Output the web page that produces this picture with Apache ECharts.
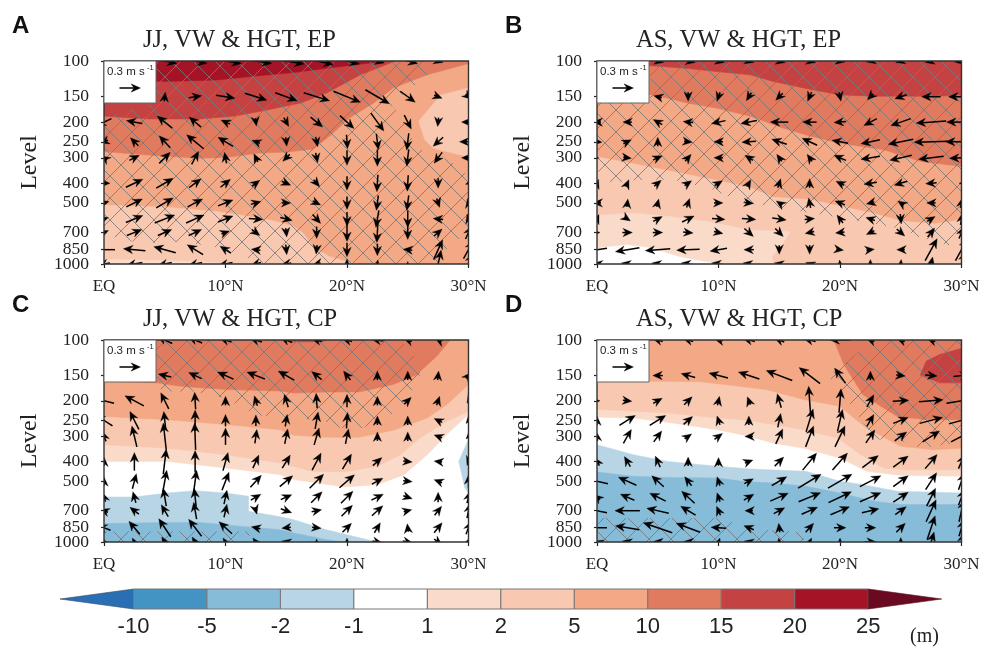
<!DOCTYPE html>
<html><head><meta charset="utf-8">
<style>html,body{margin:0;padding:0;background:#fff}#c{width:983px;height:648px}</style>
<script src="https://cdn.jsdelivr.net/npm/echarts@6/dist/echarts.min.js"></script>
</head><body><div id="c"></div>
<script>
// ---------- axes ----------
const levelTicks = [100,150,200,250,300,400,500,700,1000];
const crowdedLevelTicks = [850];
const lonTicks = ['EQ','10°N','20°N','30°N'];
const windLevels = [100,150,200,250,300,400,500,600,700,850,1000];
const windLons = [0,2.5,5,7.5,10,12.5,15,17.5,20,22.5,25,27.5,30];
const barLabels = ['-10','-5','-2','-1','1','2','5','10','15','20','25'];
const barColors = ['#2a6fb3','#4393c3','#87bcd9','#b8d5e5','#ffffff','#fadbca','#f8c8b0','#f3a985','#e07b5f','#c44242','#a51426','#6a0a20'];
const titles = ['JJ, VW & HGT, EP','AS, VW & HGT, EP','JJ, VW & HGT, CP','AS, VW & HGT, CP'];
const letters = ['A','B','C','D'];

// ---------- contour fields: [band label, vertices as [lat, level]] painted in order ----------
const fieldA = [
 ['5',[[0,100],[30,100],[30,1000],[0,1000]]],
 ['2',[[0,512],[5.2,525],[9.3,552],[12.9,595],[14.2,618],[15.6,654],[16.4,706],[17.3,837],[18.6,920],[20,973],[20.8,1000],[0,1000]]],
 ['1',[[0,948],[5.2,963],[7.9,973],[10.7,1000],[0,1000]]],
 ['2',[[30,136],[27.7,147],[25.9,198],[26.4,244],[27.1,269],[29.6,293],[30,298]]],
 ['10',[[0,279],[2.4,287],[5.2,295],[7.9,301],[10,299],[12.8,284],[15,281],[17.2,272],[18.7,231],[20.2,191],[22.2,161],[23.8,136],[26.6,117],[30,103],[30,100],[0,100]]],
 ['15',[[0,187],[3.8,193],[7.9,193],[10.7,187],[12.9,177],[16.2,161],[18.3,144],[21.1,117],[23.8,101],[24,100],[0,100]]],
 ['20',[[0,124],[5.2,126],[9.3,124],[12.9,118],[15.6,114],[19.7,106],[23.3,100],[0,100]]]
];
const fieldB = [
 ['2',[[0,100],[30,100],[30,1000],[0,1000]]],
 ['1',[[0,575],[3,562],[5.8,582],[9,618],[12.6,680],[15.9,693],[15.3,791],[14.4,920],[14.5,1000],[0,1000]]],
 ['-1',[[0,837],[2.5,807],[4.5,837],[6.7,920],[8.7,973],[10.1,1000],[0,1000]]],
 ['5',[[0,295],[3,319],[5.8,344],[8.5,371],[12.5,415],[14.5,466],[17.5,478],[22.9,562],[25,610],[27.8,630],[29.4,610],[30,590],[30,100],[0,100]]],
 ['10',[[0,135],[4.7,147],[7.4,161],[9.9,171],[12.6,187],[15.3,214],[17.5,234],[20,254],[23.6,274],[26.6,312],[30,331],[30,100],[0,100]]],
 ['15',[[0,103],[4.9,106],[7.5,109],[10,113],[12.6,117],[14.5,126],[17.3,137],[20,147],[22.7,149],[28,149],[30,147],[30,100],[0,100]]]
];
const fieldC = [
 ['-1',[[0,100],[30,100],[30,1000],[0,1000]]],
 ['1',[[0,399],[5.2,399],[10,430],[14.5,464],[15.6,491],[19.8,534],[22.5,520],[24.7,464],[26.6,370],[28.2,294],[30,234],[30,100],[0,100]]],
 ['2',[[0,330],[5.2,343],[10,370],[14.5,406],[17.1,447],[19.8,450],[22.5,422],[24.4,370],[26,306],[28.2,253],[30,225],[30,100],[0,100]]],
 ['5',[[0,239],[5.2,248],[10,262],[14.5,278],[15.6,296],[18.3,303],[21,303],[23.8,280],[26.6,243],[28.2,209],[30,166],[30,100],[0,100]]],
 ['10',[[0,160],[4.3,163],[6.5,170],[10.1,176],[14.5,179],[15.6,183],[18.3,181],[21,181],[23.8,166],[25.7,149],[27.4,120],[28.5,100],[0,100]]],
 ['15',[[15.3,100],[18.3,100],[18,102],[15.6,102]]],
 ['-2',[[0,599],[2.5,599],[5.2,572],[7.5,557],[10,572],[11.9,594],[11.9,705],[14.5,750],[15.6,775],[18.3,869],[22.2,992],[22.5,1000],[0,1000]]],
 ['-5',[[0,811],[5.2,800],[7.9,800],[11.2,836],[14.5,869],[15.6,902],[18.3,973],[19.7,1000],[0,1000]]],
 ['-2',[[30,311],[29.2,398],[29.7,540],[30,572]]]
];
const fieldD = [
 ['-1',[[0,100],[30,100],[30,1000],[0,1000]]],
 ['1',[[0,241],[3,243],[6.3,258],[9.9,278],[12.6,300],[14.5,324],[17,343],[20,384],[22.2,447],[25,468],[30,473],[30,100],[0,100]]],
 ['2',[[0,220],[3,225],[5.8,230],[9.9,243],[11.9,248],[14.5,262],[17,278],[19.8,306],[21.7,370],[23.6,430],[25.5,439],[30,439],[30,100],[0,100]]],
 ['5',[[0,161],[4.4,160],[8.5,161],[11.9,170],[13.9,176],[17,197],[20,213],[21.4,250],[22.2,273],[25,336],[27.7,349],[30,343],[30,100],[0,100]]],
 ['10',[[19.5,100],[20.3,132],[21.9,187],[24.7,239],[27.1,248],[30,248],[30,100]]],
 ['15',[[30,110],[28.2,118],[27.1,127],[26.6,149],[28.2,163],[30,163]]],
 ['-2',[[0,330],[3,370],[5.8,399],[8.5,414],[12.6,435],[17.2,447],[20,501],[21.9,520],[24.7,561],[30,572],[30,1000],[0,1000]]],
 ['-5',[[0,450],[3,473],[5.8,479],[9.9,482],[12,501],[14.5,511],[17.2,530],[20,572],[22.8,629],[25,653],[30,653],[30,1000],[0,1000]]]
];

// ---------- significance hatching ----------
const hatchA = [[[4.3,100],[27.8,100],[26.8,115],[24.4,149],[23.7,167],[24.4,185],[25.8,270],[28.5,310],[30,370],[30,700],[28.5,800],[27.5,1000],[13.4,1000],[12.3,955],[10.7,885],[9,820],[6.3,776],[3,791],[0,719],[0,190],[4.3,160]]];
const hatchB = [[[0,345],[1.2,400],[3.3,385],[6.3,385],[9.6,431],[12,502],[13.4,510],[15.9,540],[20.8,600],[25.5,680],[26.3,730],[28.9,810],[29.9,730],[30,730],[30,100],[4.4,100],[4.4,160],[0,160]]];
const hatchC = [[[4.3,100],[24.4,100],[26,130],[26,150],[25.2,186],[24.4,221],[23.3,240],[21.3,273],[19.7,273],[19,270],[18.3,255],[16,243],[14.5,243],[12.5,235],[10,195],[7.5,180],[5,180],[4.3,170]],
 [[0,885],[12,885],[12,1000],[0,1000]]];
const hatchD = [[[23.3,100],[21.9,110],[20.3,132],[19,150],[20,173],[21.5,240],[23,311],[24.7,311],[26.7,343],[30,320],[30,100]],
 [[0,760],[10,760],[13.4,870],[15.6,880],[17,900],[17,1000],[0,1000]]];

// ---------- wind vectors per level, per latitude: [eastward, upward], 21 units = 0.3 m/s ----------
const windA = [
 [null,null,[24,-5],[24,-5],[32,-5],[32,-5],[36,-6],[33,-7],[25,-6],[14,-4],[20,-5],[10,-3],null],
 [null,null,[1,9],[13,2],[19,-3],[22,-7],[22,-8],[26,-8],[27,-11],[24,-14],[15,-11],[8,-3],[6,-5]],
 [[-15,-7],[-16,3],[-15,12],[-12,10],[-9,4],[1,-8],[5,-9],[12,-10],[14,-13],[13,-18],[7,-14],[-1,-9],[-14,0]],
 [[-8,-3],[-8,8],[-11,12],[-17,14],[-15,9],[-8,3],[1,-9],[2,-10],[1,-14],[2,-16],[-2,-17],[-10,-9],[-18,0]],
 [[-6,4],[10,5],[11,11],[7,13],[-2,11],[-4,8],[-7,-7],[2,-10],[0,-15],[0,-17],[-2,-17],[-8,-11],[-14,0]],
 [[12,0],[17,8],[17,10],[12,9],[10,8],[8,6],[9,-4],[6,-7],[0,-14],[-1,-17],[-1,-16],[0,-10],[-6,-2]],
 [[10,3],[16,8],[17,10],[15,8],[15,6],[10,3],[9,0],[8,-4],[0,-13],[-2,-15],[-2,-15],[3,-9],[-2,9]],
 [[9,3],[17,7],[20,8],[18,8],[15,6],[14,-1],[12,-3],[8,-9],[0,-14],[-3,-17],[0,-17],[-10,1],[-3,10]],
 [[9,4],[15,6],[14,6],[13,6],[8,3],[8,-6],[1,-9],[0,-12],[0,-18],[-1,-20],[0,-14],[8,7],[6,13]],
 [[-22,0],[-22,2],[-22,6],[-16,10],[-11,7],[-9,1],[1,-10],[-1,-9],[0,-14],[0,-12],[-9,1],[9,20],[10,18]],
 [[-12,-2],[-16,-3],[-14,-3],[-14,-3],[-14,-3],[-10,-3],[-10,-2],[-8,-2],[0,10],[1,8],[0,5],[6,28],[8,22]]
];
const windB = [
 [null,null,[12,-3],[14,-3],[12,-3],[10,-3],[12,-3],[12,-3],[10,-2],[-8,-2],[-10,-3],[-12,-3],[-14,-2]],
 [null,null,[-8,2],[0,-9],[-3,-9],[-5,-8],[-7,-7],[-4,-9],[2,-9],[-6,-6],[-12,-4],[-19,0],[-26,0]],
 [[-8,0],[-9,0],[-9,5],[-10,1],[-14,-3],[-16,-3],[-18,0],[-14,0],[-12,-1],[-13,-7],[-20,-7],[-30,-2],[-30,0]],
 [[10,-1],[8,4],[0,9],[8,-1],[-9,0],[-14,-1],[-15,5],[-15,7],[-16,3],[-19,-4],[-25,-5],[-34,-1],[-32,0]],
 [[4,0],[8,-1],[9,4],[6,7],[-9,0],[-8,5],[-5,7],[-5,7],[-12,5],[-19,-3],[-22,-5],[-25,-3],[-24,-1]],
 [[3,8],[3,7],[7,6],[7,5],[8,5],[4,7],[3,9],[0,9],[-8,4],[-13,-2],[-13,-4],[-11,-1],[-5,0]],
 [[-8,0],[1,8],[2,8],[3,9],[9,0],[9,-1],[-6,4],[-2,10],[-10,4],[-8,-2],[-6,4],[-9,0],[2,10]],
 [[4,9],[6,-4],[9,5],[12,6],[13,-1],[14,-1],[14,-2],[10,1],[-6,8],[-9,3],[1,-10],[8,5],[2,12]],
 [[6,0],[10,0],[10,0],[10,-1],[9,-2],[9,-8],[8,-8],[-9,-2],[-9,-1],[-8,-4],[8,-7],[7,9],[5,12]],
 [[-20,-3],[-24,-4],[-25,-2],[-23,-1],[-17,-3],[-10,0],[0,-9],[0,-9],[7,-1],[8,1],[-8,0],[12,22],[12,22]],
 [[-8,1],[-12,2],[-12,2],[-14,2],[-14,2],[-12,2],[-10,2],[-8,3],[-1,8],[0,9],[1,9],[3,14],[8,25]]
];
const windC = [
 [null,null,[-15,7],[-14,6],[-12,4],[-12,4],[-12,5],[-10,3],[-10,3],[-12,2],[-8,3],[-6,3],null],
 [null,null,[-13,3],[-13,6],[-16,7],[-18,7],[-16,9],[-10,8],[-7,9],[0,9],[0,9],[1,9],[5,6]],
 [[-20,5],[-19,10],[-8,16],[-1,17],[0,9],[-3,10],[-4,13],[-1,15],[0,13],[0,9],[7,7],[3,9],[-3,-5]],
 [[-17,11],[-9,18],[-2,18],[0,21],[0,12],[0,11],[2,12],[3,17],[1,16],[0,9],[0,9],[-8,4],[-5,-6]],
 [[-4,10],[-5,21],[-3,27],[-1,27],[0,17],[2,14],[3,15],[5,17],[3,15],[0,9],[0,9],[-8,3],[-5,-5]],
 [[0,9],[0,18],[3,25],[0,22],[5,18],[6,13],[8,13],[9,17],[9,15],[9,8],[9,-1],[-8,1],[-3,-8]],
 [[0,9],[4,15],[4,22],[3,22],[7,18],[11,12],[13,11],[14,14],[15,13],[11,6],[9,-1],[-8,3],[0,13]],
 [[-3,9],[-3,11],[-3,18],[-2,18],[3,14],[10,6],[11,5],[11,11],[12,12],[12,6],[9,-3],[0,10],[3,12]],
 [[-8,3],[-9,7],[-7,12],[-3,17],[3,13],[2,-7],[11,-4],[10,2],[11,11],[11,10],[8,2],[7,9],[3,15]],
 [[-13,5],[-11,13],[-12,18],[-13,17],[-13,12],[-9,2],[-9,-1],[9,-1],[9,9],[6,10],[-1,8],[8,10],[5,13]],
 [[-4,8],[-4,8],[-6,10],[-6,10],[-5,8],[-6,8],[-9,2],[0,6],[0,8],[10,-2],[10,-2],[8,-6],[4,10]]
];
const windD = [
 [null,null,[-10,3],[-10,3],[-8,2],[-12,3],[-10,4],[-12,3],[-20,0],[-8,3],[-8,3],[-8,3],[-4,2]],
 [null,null,[-10,0],[-14,4],[-19,5],[-21,7],[-26,10],[-21,16],[-11,15],[0,9],[9,-1],[12,-1],[16,2]],
 [[6,0],[9,-1],[9,5],[8,8],[2,9],[-3,8],[-4,14],[-2,29],[2,24],[7,12],[16,1],[24,2],[30,5]],
 [[0,9],[16,10],[16,10],[9,8],[-3,9],[0,9],[3,14],[7,23],[5,22],[7,12],[15,6],[23,6],[25,7]],
 [[-1,9],[8,14],[8,11],[7,5],[8,6],[-8,0],[7,15],[8,21],[10,21],[9,13],[12,9],[17,11],[21,11]],
 [[-5,8],[-6,10],[-5,11],[0,9],[0,8],[8,3],[9,9],[14,17],[15,17],[16,12],[15,11],[12,14],[6,14]],
 [[-22,5],[-18,8],[-12,11],[-7,9],[-3,9],[9,5],[15,9],[23,14],[24,14],[21,11],[15,11],[11,17],[6,17]],
 [[-6,5],[-14,6],[-16,8],[-13,12],[-3,9],[10,6],[18,8],[22,9],[23,11],[21,9],[15,10],[9,18],[6,16]],
 [[-20,4],[-25,0],[-22,5],[-15,9],[-4,9],[-8,0],[11,6],[16,7],[19,8],[17,4],[11,8],[10,22],[5,22]],
 [[-20,0],[-24,4],[-29,10],[-24,9],[-15,1],[-10,4],[-1,9],[8,9],[12,0],[11,0],[9,9],[8,24],[5,17]],
 [[-6,2],[-10,2],[-9,1],[-9,1],[3,8],[-9,2],[-1,8],[4,8],[0,8],[12,0],[0,9],[6,20],[5,18]]
];
const refVectorLength = 21;

// ---------- layout ----------
const panels = [
 {left:104,top:61,h:203,field:fieldA,hatch:hatchA,wind:windA},
 {left:597,top:61,h:203,field:fieldB,hatch:hatchB,wind:windB},
 {left:104,top:340,h:202,field:fieldC,hatch:hatchC,wind:windC},
 {left:597,top:340,h:202,field:fieldD,hatch:hatchD,wind:windD}
];
const plotW = 364.5;
const colorOf = {'-1':'#ffffff','1':'#fadbca','2':'#f8c8b0','5':'#f3a985','10':'#e07b5f','15':'#c44242','20':'#a51426','-2':'#b8d5e5','-5':'#87bcd9'};

const tile = document.createElement('canvas'); tile.width = 22; tile.height = 22;
(function(){const g=tile.getContext('2d');g.strokeStyle='rgba(120,120,120,0.85)';g.lineWidth=1;
 g.beginPath();g.moveTo(-2,-2);g.lineTo(24,24);g.moveTo(24,-2);g.lineTo(-2,24);g.stroke();})();

function arrow(cx,cy,dx,dy){
 const L=Math.hypot(dx,dy)||1, ux=dx/L, uy=-dy/L;
 const tx=cx+ux*L/2, ty=cy+uy*L/2, bx=cx-ux*L/2, by=cy-uy*L/2;
 const hl=9.5, hw=4.2, nl=6.5, px=-uy, py=ux;
 const pts=[[tx,ty],[tx-ux*hl+px*hw,ty-uy*hl+py*hw],[tx-ux*nl,ty-uy*nl],[tx-ux*hl-px*hw,ty-uy*hl-py*hw]];
 return [
  {type:'line',shape:{x1:bx,y1:by,x2:tx-ux*3,y2:ty-uy*3},style:{stroke:'#000',lineWidth:1.5,fill:null}},
  {type:'polygon',shape:{points:pts},style:{fill:'#000',stroke:'#000',lineWidth:0.3}}
 ];
}

const yLabelStyle = {margin:15,showMinLabel:true,showMaxLabel:true,hideOverlap:false,fontFamily:'Liberation Serif',fontSize:17.5,color:'#222',formatter:v=>String(Math.round(v))};
const yTickStyle = {show:true,length:3,lineStyle:{color:'#222',width:1.2}};
const series=[], grids=[], xAxes=[], yAxes=[], title=[], graphic=[];
panels.forEach((p,i)=>{
 grids.push({left:p.left,top:p.top,width:plotW,height:p.h});
 xAxes.push({gridIndex:i,type:'value',min:0,max:30,interval:10,splitLine:{show:false},
  axisLine:{show:false},axisTick:{show:true,length:4,lineStyle:{color:'#222',width:1.2}},
  axisLabel:{margin:14,fontFamily:'Liberation Serif',fontSize:17,color:'#222',showMinLabel:true,showMaxLabel:true,formatter:v=>lonTicks[v/10]}});
 yAxes.push({gridIndex:i,type:'log',logBase:10,min:100,max:1000,inverse:true,position:'left',splitLine:{show:false},minorTick:{show:false},
  axisLine:{show:false},axisTick:Object.assign({customValues:levelTicks},yTickStyle),
  axisLabel:Object.assign({customValues:levelTicks},yLabelStyle),
  name:'Level',nameLocation:'middle',nameGap:62,nameRotate:90,nameTextStyle:{fontFamily:'Liberation Serif',fontSize:24,color:'#222'}});
 series.push({type:'custom',xAxisIndex:i,yAxisIndex:i,z:2,clip:true,silent:true,
  data:p.field.map((f,k)=>[k]),encode:{x:0,y:0},
  renderItem:(params,api)=>{const f=p.field[params.dataIndex];
   return {type:'polygon',shape:{points:f[1].map(v=>api.coord(v))},style:{fill:colorOf[f[0]],stroke:colorOf[f[0]],lineWidth:0.5}};}});
 series.push({type:'custom',xAxisIndex:i,yAxisIndex:i,z:3,clip:true,silent:true,
  data:p.hatch.map((f,k)=>[k]),encode:{x:0,y:0},
  renderItem:(params,api)=>({type:'polygon',shape:{points:p.hatch[params.dataIndex].map(v=>api.coord(v))},
    style:{fill:{image:tile,repeat:'repeat'},stroke:null}})});
 const vecs=[];
 p.wind.forEach((row,r)=>row.forEach((v,c)=>{if(v)vecs.push([windLons[c],windLevels[r],v[0],v[1]]);}));
 series.push({type:'custom',xAxisIndex:i,yAxisIndex:i,z:4,clip:true,silent:true,data:vecs,encode:{x:0,y:1},
  renderItem:(params,api)=>{const c=api.coord([api.value(0),api.value(1)]);
   return {type:'group',children:arrow(c[0],c[1],api.value(2),api.value(3))};}});
 series.push({type:'custom',xAxisIndex:i,yAxisIndex:i,z:5,clip:false,silent:true,data:[[0,100,30,1000]],encode:{x:[0,2],y:[1,3]},
  renderItem:(params,api)=>{const a=api.coord([0,100]),b=api.coord([30,1000]);
   return {type:'rect',shape:{x:a[0],y:a[1],width:b[0]-a[0],height:b[1]-a[1]},style:{fill:null,stroke:'#333',lineWidth:1.4}};}});
 title.push({text:titles[i],left:p.left+39,top:p.top-33,padding:0,textStyle:{fontFamily:'Liberation Serif',fontSize:24.5,fontWeight:'normal',color:'#222'}});
 title.push({text:letters[i],left:p.left-92,top:p.top-47,padding:0,textStyle:{fontFamily:'Liberation Sans',fontSize:24,fontWeight:'bold',color:'#111'}});
 const bx=p.left, by=p.top;
 graphic.push({type:'rect',z:50,silent:true,shape:{x:bx,y:by,width:52,height:42},style:{fill:'#fff',stroke:'#666',lineWidth:1}});
 graphic.push({type:'text',z:51,silent:true,x:bx+3,y:by+5,style:{text:'0.3 m s',font:'11.5px "Liberation Sans"',fill:'#222'}});
 graphic.push({type:'text',z:51,silent:true,x:bx+43,y:by+3,style:{text:'-1',font:'7.5px "Liberation Sans"',fill:'#222'}});
 graphic.push({type:'group',z:51,silent:true,children:arrow(bx+26,by+27,refVectorLength,0).map(e=>Object.assign(e,{z:51}))});
});

// ---------- colour bar ----------
const barIdx = panels.length;
grids.push({left:60,top:589,width:881.7,height:20});
xAxes.push({gridIndex:barIdx,type:'value',min:0,max:12,interval:1,splitLine:{show:false},axisLine:{show:false},axisTick:{show:false},
 axisLabel:{customValues:barLabels.map((l,k)=>k+1),margin:7,fontFamily:'Liberation Sans',fontSize:22,color:'#222',formatter:v=>barLabels[Math.round(v)-1]}});
yAxes.push({gridIndex:barIdx,type:'value',min:0,max:1,show:false});
// the 850 label sits too near 1000 for one axis to keep both, so it has its own twin axis
panels.forEach((p,i)=>{
 yAxes.push({gridIndex:i,type:'log',logBase:10,min:100,max:1000,inverse:true,position:'left',splitLine:{show:false},minorTick:{show:false},
  axisLine:{show:false},axisTick:Object.assign({customValues:crowdedLevelTicks},yTickStyle),
  axisLabel:Object.assign({customValues:crowdedLevelTicks},yLabelStyle)});
});
series.push({type:'custom',xAxisIndex:barIdx,yAxisIndex:barIdx,z:2,silent:true,data:barColors.map((c,k)=>[k,0]),encode:{x:0,y:1},
 renderItem:(params,api)=>{const k=params.dataIndex,n=barColors.length;
  const a=api.coord([k,1]),b=api.coord([k+1,0]);
  const st={fill:barColors[k],stroke:'#777',lineWidth:1};
  if(k===0) return {type:'polygon',shape:{points:[[a[0],(a[1]+b[1])/2],[b[0],a[1]],[b[0],b[1]]]},style:{fill:barColors[k],stroke:'#3a4a66',lineWidth:0.6}};
  if(k===n-1) return {type:'polygon',shape:{points:[[a[0],a[1]],[b[0],(a[1]+b[1])/2],[a[0],b[1]]]},style:{fill:barColors[k],stroke:'#5a1020',lineWidth:0.6}};
  return {type:'rect',shape:{x:a[0],y:a[1],width:b[0]-a[0],height:b[1]-a[1]},style:st};}});
title.push({text:'(m)',left:910,top:627,padding:0,textStyle:{fontFamily:'Liberation Serif',fontSize:20,fontWeight:'normal',color:'#222'}});

const chart = echarts.init(document.getElementById('c'),null,{renderer:'canvas'});
chart.setOption({animation:false,backgroundColor:'#fff',title,grid:grids,xAxis:xAxes,yAxis:yAxes,series,graphic:{elements:graphic}});
</script></body></html>
